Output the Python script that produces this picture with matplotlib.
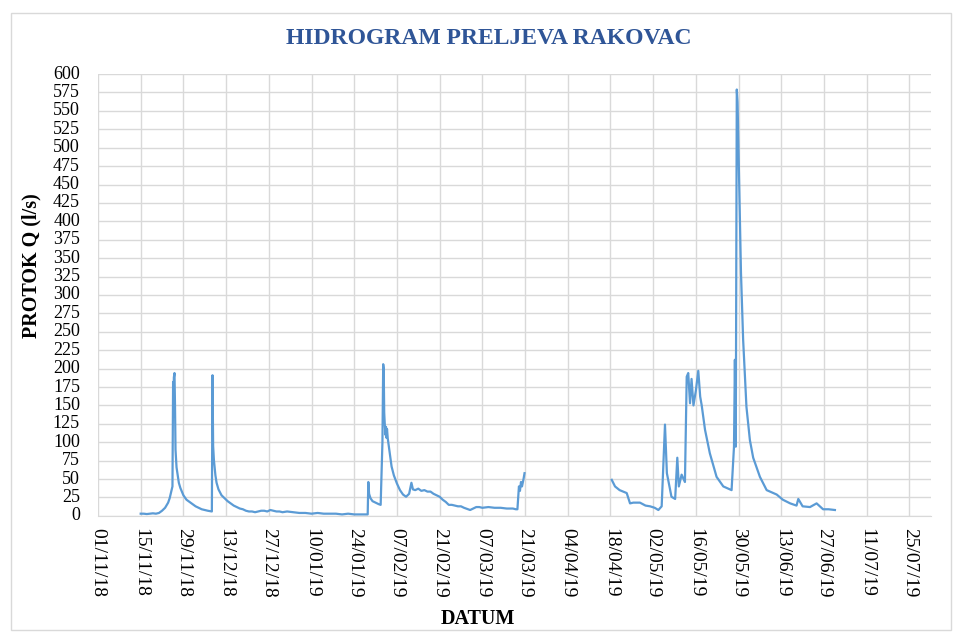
import numpy as np
import pandas as pd
import matplotlib
matplotlib.use("Agg")
import matplotlib.pyplot as plt
import matplotlib.dates as mdates
from matplotlib.patches import Rectangle

# --- Podaci (ocitano s grafa) ---
vrijeme_1 = [
    "2018-11-15 00:00", "2018-11-16 00:00", "2018-11-17 00:00", "2018-11-18 00:00",
    "2018-11-19 00:00", "2018-11-20 00:00", "2018-11-21 00:00", "2018-11-22 00:00",
    "2018-11-23 00:00", "2018-11-24 00:00", "2018-11-24 12:00", "2018-11-25 10:00",
    "2018-11-25 15:00", "2018-11-25 18:00", "2018-11-25 21:00", "2018-11-26 02:00",
    "2018-11-26 06:00", "2018-11-26 10:00", "2018-11-26 18:00", "2018-11-27 12:00",
    "2018-11-28 00:00", "2018-11-29 00:00", "2018-11-30 00:00", "2018-12-01 00:00",
    "2018-12-02 00:00", "2018-12-03 00:00", "2018-12-04 00:00", "2018-12-05 00:00",
    "2018-12-06 00:00", "2018-12-07 00:00", "2018-12-08 08:00", "2018-12-08 13:00",
    "2018-12-08 18:00", "2018-12-09 00:00", "2018-12-09 12:00", "2018-12-09 21:00",
    "2018-12-10 12:00", "2018-12-11 12:00", "2018-12-12 12:00", "2018-12-13 12:00",
    "2018-12-14 12:00", "2018-12-15 12:00", "2018-12-16 12:00", "2018-12-17 12:00",
    "2018-12-18 12:00", "2018-12-19 12:00", "2018-12-20 12:00", "2018-12-21 12:00",
    "2018-12-22 12:00", "2018-12-23 12:00", "2018-12-24 12:00", "2018-12-25 12:00",
    "2018-12-26 12:00", "2018-12-27 12:00", "2018-12-28 12:00", "2018-12-29 12:00",
    "2018-12-30 12:00", "2018-12-31 12:00", "2019-01-02 00:00", "2019-01-04 00:00",
    "2019-01-06 00:00", "2019-01-08 00:00", "2019-01-10 00:00", "2019-01-12 00:00",
    "2019-01-14 00:00", "2019-01-16 00:00", "2019-01-18 00:00", "2019-01-20 00:00",
    "2019-01-22 00:00", "2019-01-24 00:00", "2019-01-26 00:00", "2019-01-28 10:00",
    "2019-01-28 15:00", "2019-01-28 21:00", "2019-01-29 08:00", "2019-01-30 00:00",
    "2019-01-31 00:00", "2019-02-01 00:00", "2019-02-01 16:00", "2019-02-02 06:00",
    "2019-02-02 12:00", "2019-02-02 16:00", "2019-02-02 20:00", "2019-02-03 00:00",
    "2019-02-03 06:00", "2019-02-03 10:00", "2019-02-03 14:00", "2019-02-03 18:00",
    "2019-02-04 00:00", "2019-02-04 12:00", "2019-02-05 06:00", "2019-02-06 00:00",
    "2019-02-07 00:00", "2019-02-08 00:00", "2019-02-09 00:00", "2019-02-10 00:00",
    "2019-02-11 00:00", "2019-02-11 18:00", "2019-02-12 06:00", "2019-02-13 00:00",
    "2019-02-14 00:00", "2019-02-15 00:00", "2019-02-16 00:00", "2019-02-17 00:00",
    "2019-02-18 00:00", "2019-02-19 00:00", "2019-02-20 00:00", "2019-02-21 00:00",
    "2019-02-22 00:00", "2019-02-23 00:00", "2019-02-24 00:00", "2019-02-25 00:00",
    "2019-02-26 00:00", "2019-02-27 00:00", "2019-02-28 00:00", "2019-03-01 00:00",
    "2019-03-03 00:00", "2019-03-04 00:00", "2019-03-05 00:00", "2019-03-06 00:00",
    "2019-03-07 00:00", "2019-03-09 00:00", "2019-03-11 00:00", "2019-03-13 00:00",
    "2019-03-15 00:00", "2019-03-17 00:00", "2019-03-18 00:00", "2019-03-18 12:00",
    "2019-03-19 00:00", "2019-03-19 08:00", "2019-03-19 16:00", "2019-03-20 00:00",
    "2019-03-20 12:00", "2019-03-20 20:00",
]
protok_1 = [
    3, 3, 2.5, 3,
    3.5, 3, 4, 7,
    11, 18, 24, 40,
    182, 135, 188, 194,
    150, 90, 66, 45,
    38, 28, 22, 19,
    16, 13, 11, 9,
    8, 7, 6, 191,
    95, 76, 55, 45,
    36, 28, 24, 20,
    17, 14, 12, 10,
    9, 7, 6, 6,
    5, 6, 7, 7,
    6, 8, 7, 6,
    6, 5, 6, 5,
    4, 4, 3, 4,
    3, 3, 3, 2,
    3, 2, 2, 2,
    46, 30, 24, 20,
    18, 16, 15, 100,
    206, 200, 140, 126,
    110, 121, 106, 118,
    105, 90, 67, 55,
    44, 35, 29, 26,
    30, 45, 36, 35,
    37, 34, 35, 33,
    33, 30, 28, 26,
    22, 19, 15, 15,
    14, 13, 13, 11,
    8, 10, 12, 12,
    11, 12, 11, 11,
    10, 10, 9, 9,
    40, 34, 46, 40,
    50, 58,
]

vrijeme_2 = [
    "2019-04-18 10:00", "2019-04-19 12:00", "2019-04-21 00:00", "2019-04-23 08:00",
    "2019-04-24 10:00", "2019-04-25 12:00", "2019-04-27 16:00", "2019-04-29 12:00",
    "2019-05-01 00:00", "2019-05-02 12:00", "2019-05-03 17:00", "2019-05-04 19:00",
    "2019-05-05 21:00", "2019-05-06 12:00", "2019-05-08 00:00", "2019-05-09 05:00",
    "2019-05-09 22:00", "2019-05-10 10:00", "2019-05-11 08:00", "2019-05-12 10:00",
    "2019-05-13 00:00", "2019-05-13 12:00", "2019-05-14 02:00", "2019-05-14 14:00",
    "2019-05-15 05:00", "2019-05-16 00:00", "2019-05-16 19:00", "2019-05-17 10:00",
    "2019-05-17 22:00", "2019-05-19 00:00", "2019-05-20 14:00", "2019-05-22 19:00",
    "2019-05-25 00:00", "2019-05-27 17:00", "2019-05-28 12:00", "2019-05-28 19:00",
    "2019-05-29 02:00", "2019-05-29 10:00", "2019-05-29 16:00", "2019-05-30 19:00",
    "2019-05-31 12:00", "2019-06-01 14:00", "2019-06-02 17:00", "2019-06-03 19:00",
    "2019-06-06 00:00", "2019-06-08 05:00", "2019-06-11 12:00", "2019-06-13 12:00",
    "2019-06-15 22:00", "2019-06-18 00:00", "2019-06-18 14:00", "2019-06-20 00:00",
    "2019-06-22 10:00", "2019-06-24 14:00", "2019-06-26 17:00", "2019-06-28 12:00",
    "2019-06-30 14:00",
]
protok_2 = [
    49, 40, 35, 31,
    17, 18, 18, 14,
    13, 11, 8, 13,
    124, 58, 26, 23,
    79, 40, 56, 46,
    189, 194, 153, 186,
    150, 170, 197, 162,
    150, 117, 85, 53,
    40, 35, 94, 212,
    94, 579, 562, 330,
    239, 148, 103, 79,
    53, 35, 29, 22,
    17, 14, 23, 13,
    12, 17, 9, 9,
    8,
]

pocetak, kraj = "2018-11-01", "2019-08-01"
oznake_od, oznake_do = "2018-11-01", "2019-07-25"

plava = "#5B9BD5"
siva = "#D9D9D9"
serif = ["Liberation Serif", "DejaVu Serif"]

fig = plt.figure(figsize=(9.55, 6.33), dpi=100)
ax = fig.add_axes([0.1026, 0.185, 0.872, 0.698])

for t, q in ((vrijeme_1, protok_1), (vrijeme_2, protok_2)):
    ax.plot(pd.to_datetime(t), q, color=plava, lw=1.6, solid_joinstyle="round")

ax.set_xlim(pd.Timestamp(pocetak), pd.Timestamp(kraj))
ax.set_ylim(0, 600)
ax.set_yticks(np.arange(0, 601, 25))
ax.set_xticks(pd.date_range(oznake_od, oznake_do, freq="14D"))
ax.xaxis.set_major_formatter(mdates.DateFormatter("%d/%m/%y"))

ax.grid(True, color=siva, lw=1)
ax.set_axisbelow(True)
for s in ("top", "right", "left"):
    ax.spines[s].set_visible(False)
ax.spines["bottom"].set_color(siva)
ax.tick_params(axis="x", length=0, labelsize=14, pad=9)
ax.tick_params(axis="y", length=0, labelsize=13, pad=13)
for lab in ax.get_xticklabels():
    lab.set_rotation(-90)
    lab.set_ha("center")
    lab.set_va("top")
    lab.set_family(serif)
for lab in ax.get_yticklabels():
    lab.set_family(serif)
    lab.set_va("center")

fig.text(0.512, 0.939, "HIDROGRAM PRELJEVA RAKOVAC", ha="center", va="center",
         fontsize=17, fontweight="bold", color="#2F5597", family=serif)
fig.text(0.5, 0.022, "DATUM", ha="center", va="center",
         fontsize=14.5, fontweight="bold", family=serif)
fig.text(0.033, 0.58, "PROTOK Q (l/s)", ha="center", va="center", rotation=90,
         fontsize=14.5, fontweight="bold", family=serif)

fig.patches.append(Rectangle((0.011, 0.005), 0.985, 0.975, transform=fig.transFigure,
                             fill=False, edgecolor=siva, lw=1))

fig.savefig("out.png", dpi=100)
